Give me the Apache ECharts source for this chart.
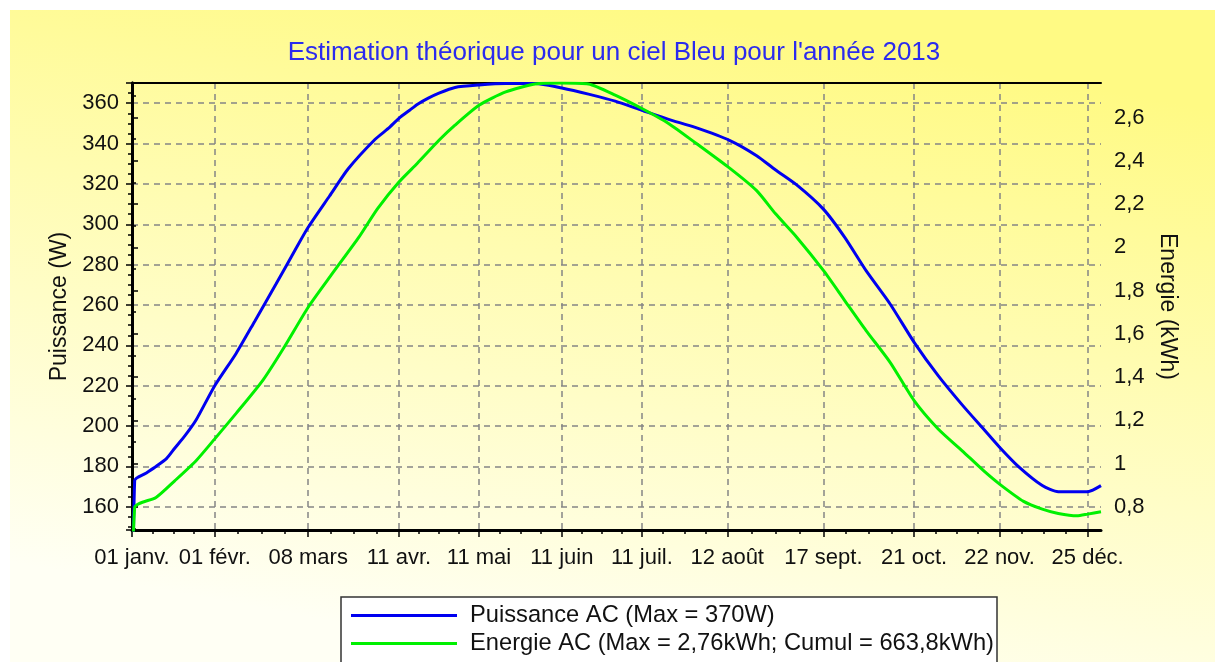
<!DOCTYPE html>
<html>
<head>
<meta charset="utf-8">
<script src="https://cdn.jsdelivr.net/npm/echarts@6/dist/echarts.min.js"></script>
<style>
    html, body { margin: 0; padding: 0; background: #fff; }
    #graphe { width: 1215px; height: 662px; }
</style>
</head>
<body>
<div id="graphe"></div>
<script>
// jours de l'annee (0 = 01 janv.)
var joursTicks = [0, 31, 66, 100, 130, 161, 191, 223, 259, 293, 325, 358];
var etiquettes = ['01 janv.', '01 févr.', '08 mars', '11 avr.', '11 mai', '11 juin', '11 juil.', '12 août', '17 sept.', '21 oct.', '22 nov.', '25 déc.'];

// Puissance AC (W)
var puissanceJours = [0, 1, 5, 9, 13, 16, 20, 24, 31, 39, 46, 54, 61, 66, 74, 81, 91, 96, 100, 104, 107, 111, 115, 121, 130, 140, 151, 161, 171, 181, 191, 201, 211, 224, 234, 241, 249, 259, 267, 275, 284, 293, 302, 311, 319, 325, 332, 341, 347, 354, 358, 363];
var puissanceW = [0, 173, 176.5, 180, 184, 189, 195.5, 203, 220, 236, 252, 270.5, 287, 298.5, 314, 327.5, 342, 347.5, 352.5, 356.5, 359.5, 362.5, 365, 367.8, 369, 369.7, 369.7, 367.5, 364.5, 361, 356.5, 352, 348, 341.5, 334, 327, 319.5, 307.5, 293.5, 277, 260.5, 241.5, 225, 210.5, 198.5, 189.5, 180, 170.5, 167.5, 167.5, 167.5, 170.5];

// Energie AC (kWh)
var energieJours = [0, 1, 9, 16, 24, 31, 39, 49, 57, 66, 75, 85, 92, 100, 107, 115, 121, 130, 140, 151, 161, 171, 181, 191, 201, 211, 224, 234, 241, 249, 259, 267, 275, 284, 293, 302, 311, 319, 325, 334, 341, 347, 354, 358, 363];
var energieKWh = [0, 0.797, 0.843, 0.92, 1.013, 1.114, 1.232, 1.385, 1.538, 1.723, 1.878, 2.047, 2.179, 2.302, 2.39, 2.495, 2.565, 2.657, 2.719, 2.755, 2.76, 2.755, 2.704, 2.642, 2.573, 2.484, 2.365, 2.262, 2.156, 2.047, 1.893, 1.754, 1.615, 1.468, 1.291, 1.16, 1.059, 0.967, 0.905, 0.825, 0.789, 0.769, 0.758, 0.766, 0.777];

var police = 'Liberation Sans, Arial, sans-serif';
var noir = '#111';

// petites graduations entre les dates
var joursMineurs = [];
for (var i = 0; i < joursTicks.length - 1; i++) {
    var a = joursTicks[i], b = joursTicks[i + 1];
    for (var k = 1; k < 4; k++) joursMineurs.push(a + (b - a) * k / 4);
}

var myChart = echarts.init(document.getElementById('graphe'));
var gridLine = { show: true, lineStyle: { color: '#858585', width: 1.5, type: [6, 5] } };

var option = {
    backgroundColor: '#fff',
    animation: false,
    graphic: [{
        type: 'rect', z: -10, silent: true,
        shape: { x: 10, y: 10, width: 1205, height: 652 },
        style: {
            fill: new echarts.graphic.LinearGradient(0.55, 0, 0.45, 1, [
                { offset: 0, color: '#fffa84' },
                { offset: 1, color: '#fffff4' }
            ])
        }
    }, {
        // cadre de la legende
        type: 'rect', z: 1, silent: true,
        shape: { x: 341, y: 597, width: 656, height: 90 },
        style: { fill: '#fff', stroke: '#333', lineWidth: 1.5 }
    }],
    title: {
        text: "Estimation théorique pour un ciel Bleu pour l'année 2013",
        left: 614, top: 40, padding: 0, textAlign: 'center',
        textStyle: { color: '#2b2bee', fontSize: 26, fontWeight: 'normal', fontFamily: police }
    },
    legend: {
        orient: 'vertical', left: 341, top: 597, z: 5,
        padding: [6, 4, 4, 10],
        itemWidth: 106, itemHeight: 3, itemGap: 3,
        icon: 'rect',
        textStyle: { color: noir, fontSize: 23.7, fontFamily: police, lineHeight: 25, padding: [0, 0, 0, 8] }
    },
    grid: { left: 132, right: 114, top: 83, bottom: 132 },
    xAxis: [{
        type: 'value', min: 0, max: 363,
        axisLine: { lineStyle: { color: '#000', width: 3 } },
        axisTick: { customValues: joursTicks, length: 7, lineStyle: { color: '#000', width: 1.5 } },
        axisLabel: {
            customValues: joursTicks, margin: 17, color: noir, fontSize: 22, fontFamily: police,
            formatter: function (v) { return etiquettes[joursTicks.indexOf(v)]; }
        },
        splitLine: gridLine
    }, {
        type: 'value', min: 0, max: 363, position: 'bottom',
        axisLine: { show: false },
        axisTick: { customValues: joursMineurs, length: 4, lineStyle: { color: '#000', width: 1.5 } },
        axisLabel: { show: false },
        splitLine: { show: false }
    }, {
        // bord superieur du cadre
        type: 'value', min: 0, max: 363, position: 'top',
        axisLine: { lineStyle: { color: '#000', width: 2 } },
        axisTick: { show: false },
        axisLabel: { show: false },
        splitLine: { show: false }
    }],
    yAxis: [{
        type: 'value', min: 148.5, max: 370, splitNumber: 11,
        name: 'Puissance (W)', nameLocation: 'middle', nameGap: 59,
        nameTextStyle: { color: noir, fontSize: 23, fontFamily: police },
        axisLine: { show: true, lineStyle: { color: '#000', width: 3 } },
        axisTick: { show: true, length: 6, lineStyle: { color: '#000', width: 1.5 } },
        minorTick: { show: true, splitNumber: 4, length: 4, lineStyle: { color: '#000', width: 1.5 } },
        axisLabel: { margin: 13, color: noir, fontSize: 22, fontFamily: police, showMinLabel: false, showMaxLabel: false },
        splitLine: gridLine
    }, {
        type: 'value', min: 0.6926, max: 2.76, splitNumber: 10, position: 'right',
        name: 'Energie (kWh)', nameLocation: 'middle', nameGap: 51, nameRotate: -90,
        nameTextStyle: { color: noir, fontSize: 23, fontFamily: police },
        axisLine: { show: true, lineStyle: { color: '#000', width: 3 } },
        axisTick: { show: true, length: 6, lineStyle: { color: '#000', width: 1.5 } },
        minorTick: { show: true, splitNumber: 2, length: 4, lineStyle: { color: '#000', width: 1.5 } },
        axisLabel: {
            margin: 13, color: noir, fontSize: 22, fontFamily: police, showMinLabel: false, showMaxLabel: false,
            formatter: function (v) { return String(Math.round(v * 10) / 10).replace('.', ','); }
        },
        splitLine: { show: false }
    }],
    series: [{
        name: 'Puissance AC (Max = 370W)',
        type: 'line', xAxisIndex: 0, yAxisIndex: 0,
        symbol: 'none', color: '#0000f0',
        smooth: 0.22,
        lineStyle: { width: 3 },
        data: puissanceJours.map(function (d, i) { return [d, puissanceW[i]]; })
    }, {
        name: 'Energie AC (Max = 2,76kWh; Cumul = 663,8kWh)',
        type: 'line', xAxisIndex: 0, yAxisIndex: 1,
        symbol: 'none', color: '#00f000',
        smooth: 0.22,
        lineStyle: { width: 3 },
        data: energieJours.map(function (d, i) { return [d, energieKWh[i]]; })
    }]
};
myChart.setOption(option);
</script>
</body>
</html>
